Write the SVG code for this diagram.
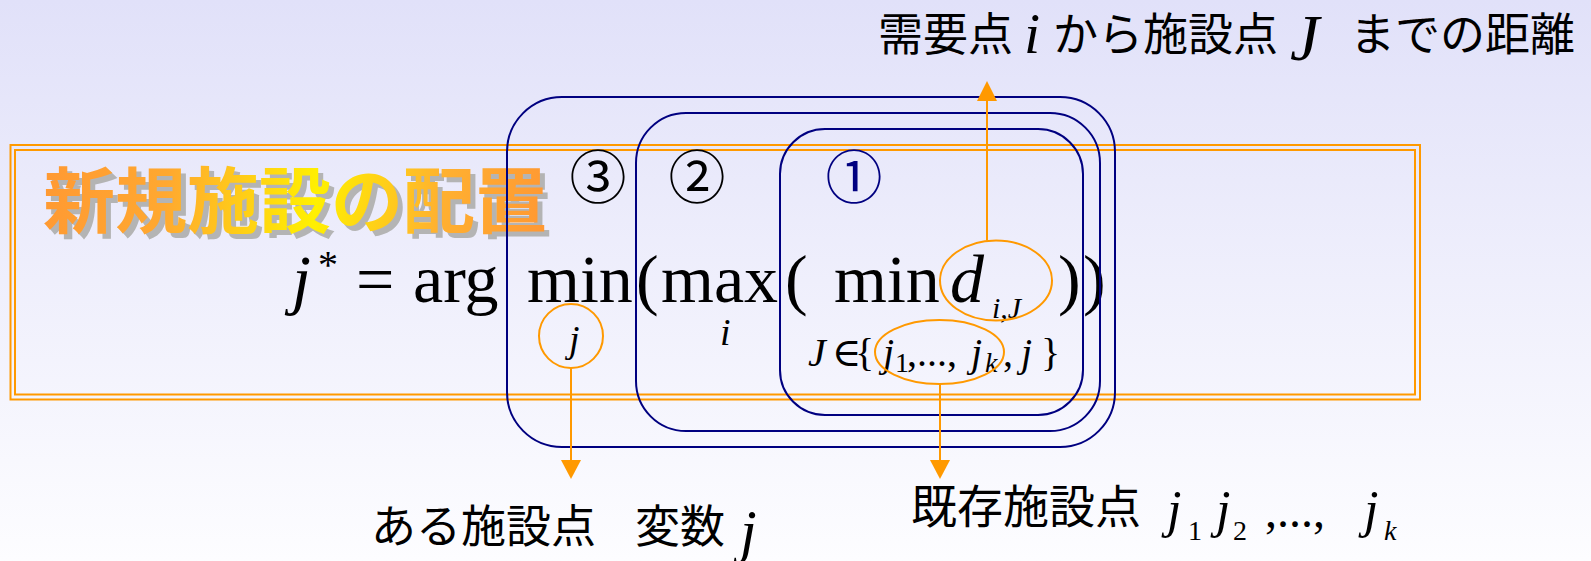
<svg xmlns="http://www.w3.org/2000/svg" width="1591" height="561" viewBox="0 0 1591 561">
<defs>
<linearGradient id="bg" x1="0" y1="0" x2="0" y2="1">
<stop offset="0" stop-color="#E1E1F9"/>
<stop offset="1" stop-color="#FDFDFF"/>
</linearGradient>
<linearGradient id="gold" gradientUnits="userSpaceOnUse" x1="43" y1="160" x2="540" y2="230">
<stop offset="0" stop-color="#FF9933"/>
<stop offset="0.25" stop-color="#FFA830"/>
<stop offset="0.55" stop-color="#FFF000"/>
<stop offset="0.8" stop-color="#FFB030"/>
<stop offset="1" stop-color="#FF9933"/>
</linearGradient>
<style>
.jp{font-family:"Noto Sans CJK JP","Noto Sans",sans-serif;fill:#000}
.m{font-family:"Liberation Serif","DejaVu Serif",serif;fill:#000}
.it{font-style:italic}
.navy{fill:none;stroke:#000080;stroke-width:2}
.or{fill:none;stroke:#FF9900;stroke-width:2}
.ah{fill:#FF9900}
.frame{fill:none;stroke:#FF9900;stroke-width:2}
</style>
</defs>
<rect x="0" y="0" width="1591" height="561" fill="url(#bg)"/>

<g id="frame">
<rect x="10.5" y="145" width="1409.5" height="254.5" fill="#FFFFFF" class="frame"/>
<rect x="15" y="150" width="1400" height="244.5" class="frame"/>
</g>

<g id="title">
<text x="48" y="232" font-size="72" font-weight="700" class="jp" style="fill:#B4B4B4">新規施設の配置</text>
<text x="43" y="227" font-size="72" font-weight="700" class="jp" style="fill:url(#gold)">新規施設の配置</text>
</g>

<g id="labels-num">
<text x="598" y="198" font-size="57" text-anchor="middle" class="jp">③</text>
<text x="697" y="198" font-size="57" text-anchor="middle" class="jp">②</text>
<text x="854" y="198" font-size="57" text-anchor="middle" class="jp" style="fill:#000080">①</text>
</g>

<g id="formula" class="m">
<text x="292" y="302" font-size="68" class="m it">j</text>
<text x="318" y="278" font-size="40" class="m">*</text>
<text x="356" y="302" font-size="68" class="m">=</text>
<text x="413" y="302" font-size="68" class="m">arg</text>
<text x="527" y="302" font-size="68" class="m">min</text>
<text x="636" y="302" font-size="68" class="m">(</text>
<text x="661" y="302" font-size="68" class="m">max</text>
<text x="785" y="302" font-size="68" class="m">(</text>
<text x="834" y="302" font-size="68" class="m">min</text>
<text x="950" y="302" font-size="68" class="m it">d</text>
<text x="992" y="318" font-size="30" class="m it">i,J</text>
<text x="1058" y="302" font-size="68" class="m">)</text>
<text x="1083" y="302" font-size="68" class="m">)</text>
<text x="569" y="352" font-size="38" class="m it">j</text>
<text x="720" y="345" font-size="38" class="m it">i</text>
<text x="808" y="366" font-size="40" class="m it">J</text>
<text x="832" y="366" font-size="40" class="m">∈</text>
<text x="855" y="366" font-size="40" class="m">{</text>
<text x="883" y="366" font-size="40" class="m it">j</text>
<text x="895" y="372" font-size="28" class="m">1</text>
<text x="907" y="366" font-size="40" class="m">,...,</text>
<text x="971" y="366" font-size="40" class="m it">j</text>
<text x="985" y="372" font-size="28" class="m it">k</text>
<text x="1003" y="366" font-size="40" class="m">,</text>
<text x="1021" y="366" font-size="40" class="m it">j</text>
<text x="1041" y="366" font-size="40" class="m">}</text>
</g>

<g id="box1"><rect x="780" y="129" width="303" height="286" rx="45" ry="45" class="navy"/></g>
<g id="box2"><rect x="636" y="113" width="464" height="318" rx="50" ry="50" class="navy"/></g>
<g id="box3"><rect x="507" y="97" width="608" height="350" rx="55" ry="55" class="navy"/></g>

<g id="marks">
<ellipse cx="996" cy="280.5" rx="56" ry="40" class="or"/>
<ellipse cx="939.5" cy="352" rx="64.5" ry="32" class="or"/>
<circle cx="571" cy="336" r="32" class="or"/>
</g>

<g id="connectors">
<line x1="987" y1="240.5" x2="987" y2="100" class="or"/>
<polygon points="987,81 977,101 997,101" class="ah"/>
<line x1="571" y1="368" x2="571" y2="461" class="or"/>
<polygon points="571,479 561,460 581,460" class="ah"/>
<line x1="940" y1="384" x2="940" y2="461" class="or"/>
<polygon points="940,479 930,460 950,460" class="ah"/>
</g>

<g id="label-top">
<text x="878" y="51" font-size="45" class="jp">需要点</text>
<text x="1024" y="53" font-size="58" class="m it">i</text>
<text x="1053" y="51" font-size="45" class="jp">から施設点</text>
<text x="1290" y="60" font-size="66" class="m it">J</text>
<text x="1350" y="51" font-size="45" class="jp">までの距離</text>
</g>

<g id="label-left">
<text x="371" y="543" font-size="45" class="jp">ある施設点</text>
<text x="635" y="543" font-size="45" class="jp">変数</text>
<text x="740" y="551" font-size="60" class="m it">j</text>
</g>

<g id="label-right">
<text x="911" y="523" font-size="46" class="jp">既存施設点</text>
<text x="1167" y="527" font-size="52" class="m it">j</text>
<text x="1188" y="540" font-size="28" class="m">1</text>
<text x="1216" y="527" font-size="52" class="m it">j</text>
<text x="1233" y="540" font-size="28" class="m">2</text>
<text x="1265" y="527" font-size="48" class="m">,...,</text>
<text x="1364" y="527" font-size="52" class="m it">j</text>
<text x="1384" y="540" font-size="28" class="m it">k</text>
</g>
</svg>
